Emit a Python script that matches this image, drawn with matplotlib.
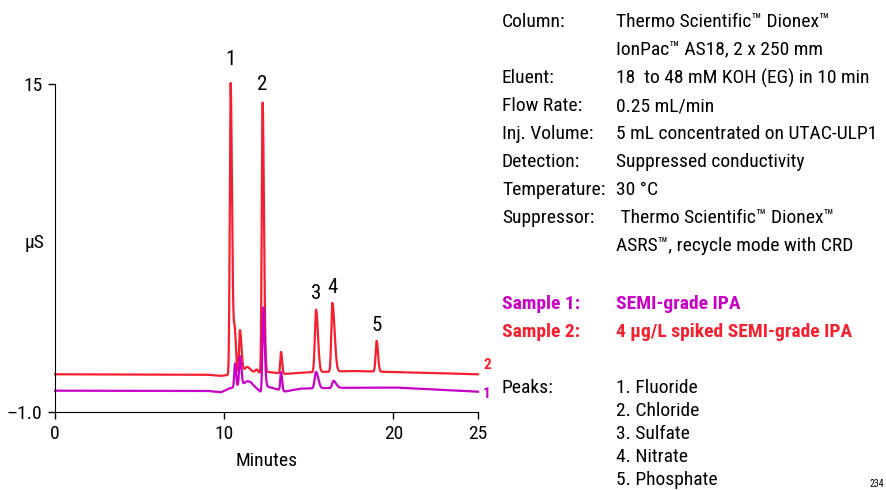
import numpy as np
import matplotlib
matplotlib.use("Agg")
import matplotlib.pyplot as plt

# ---- data ----
# baseline knots (minutes, uS)
base2_t = [0, 9.0, 9.8, 10.2, 11.6, 12.15, 12.6, 13.6, 14.5, 17.5, 21, 25]
base2_y = [0.84, 0.82, 0.76, 0.80, 0.98, 0.88, 0.95, 0.86, 0.92, 1.00, 0.93, 0.84]
base1_t = [0, 9.0, 9.8, 10.3, 11.6, 12.15, 12.5, 13.6, 14.5, 17.0, 20, 25]
base1_y = [0.04, 0.03, -0.04, 0.15, 0.40, -0.02, 0.25, 0.00, 0.14, 0.18, 0.20, -0.01]

# peaks: retention time, height above baseline, left / right width
peaks2_t = [10.38, 10.62, 10.93, 11.35, 11.92, 12.27, 13.36, 15.43, 16.39, 19.01]
peaks2_h = [14.2, 2.2, 2.1, 0.25, 0.15, 13.2, 1.05, 3.05, 3.35, 1.5]
peaks2_sl = [0.05, 0.08, 0.05, 0.15, 0.08, 0.05, 0.045, 0.07, 0.06, 0.06]
peaks2_sr = [0.08, 0.07, 0.09, 0.15, 0.08, 0.08, 0.06, 0.11, 0.13, 0.08]

peaks1_t = [10.64, 10.93, 11.35, 12.31, 13.36, 15.43, 16.45]
peaks1_h = [1.15, 1.45, 0.15, 4.0, 0.9, 0.8, 0.35]
peaks1_sl = [0.045, 0.05, 0.15, 0.05, 0.045, 0.08, 0.07]
peaks1_sr = [0.06, 0.08, 0.15, 0.08, 0.06, 0.13, 0.16]

peak_labels = ["1", "2", "3", "4", "5"]
label_t = [10.38, 12.27, 15.43, 16.39, 19.01]
label_y = [16.2, 15.0, 4.8, 5.05, 3.2]

info_keys = ["Column:", "", "Eluent:", "Flow Rate:", "Inj. Volume:", "Detection:",
             "Temperature:", "Suppressor:", ""]
info_vals = ["Thermo Scientific\u2122 Dionex\u2122", "IonPac\u2122 AS18, 2 x 250 mm",
             "18  to 48 mM KOH (EG) in 10 min", "0.25 mL/min",
             "5 mL concentrated on UTAC-ULP1", "Suppressed conductivity", "30 \u00b0C",
             " Thermo Scientific\u2122 Dionex\u2122", "ASRS\u2122, recycle mode with CRD"]
peak_names = ["1. Fluoride", "2. Chloride", "3. Sulfate", "4. Nitrate", "5. Phosphate"]

RED = "#f5202f"
MAG = "#c800c8"

plt.rcParams["font.family"] = ["Roboto Condensed", "Liberation Sans", "DejaVu Sans"]
FS = 14


def trace(t, bt, by, pt, ph, psl, psr):
    y = np.interp(t, bt, by)
    for c, h, sl, sr in zip(pt, ph, psl, psr):
        s = np.where(t < c, sl, sr)
        y = y + h * np.exp(-0.5 * ((t - c) / s) ** 2)
    return y


t = np.linspace(0, 25, 6000)
y2 = trace(t, base2_t, base2_y, peaks2_t, peaks2_h, peaks2_sl, peaks2_sr)
y1 = trace(t, base1_t, base1_y, peaks1_t, peaks1_h, peaks1_sl, peaks1_sr)

W, H = 887, 490
fig = plt.figure(figsize=(W / 100, H / 100), dpi=100)
ax = fig.add_axes([55 / W, 1 - 412 / H, (478 - 55) / W, (412 - 84) / H])

ax.plot(t, y2, color=RED, lw=1.6, clip_on=False)
ax.plot(t, y1, color=MAG, lw=1.6, clip_on=False)

ax.set_xlim(0, 25)
ax.set_ylim(-1, 15)
ax.set_xticks([0, 10, 20, 25])
ax.set_yticks([15, -1])
ax.set_yticklabels(["15", "\u20131.0"])
for s in ["top", "right"]:
    ax.spines[s].set_visible(False)
ax.tick_params(direction="out", length=5, width=1, labelsize=FS, pad=4)
ax.set_xlabel("Minutes", fontsize=FS, labelpad=7)
fig.text(35 / W, 1 - 243 / H, "\u00b5S", fontsize=FS, ha="center", va="center")

for lab, lt, ly in zip(peak_labels, label_t, label_y):
    ax.text(lt, ly, lab, fontsize=15, ha="center", va="center", clip_on=False)

ax.text(25.53, 1.29, "2", color=RED, fontsize=11, fontweight="bold",
        ha="center", va="center", clip_on=False)
ax.text(25.53, -0.12, "1", color=MAG, fontsize=11, fontweight="bold",
        ha="center", va="center", clip_on=False)

# right-hand conditions panel
x1, x2 = 502 / W, 616 / W
rows_y = [22, 50, 78, 106, 134, 162, 190, 218, 246]
for k, v, yy in zip(info_keys, info_vals, rows_y):
    fig.text(x1, 1 - yy / H, k, fontsize=FS, va="center")
    fig.text(x2, 1 - yy / H, v, fontsize=FS, va="center")

fig.text(x1, 1 - 304 / H, "Sample 1:", fontsize=FS, va="center", color=MAG, fontweight="bold")
fig.text(x2, 1 - 304 / H, "SEMI-grade IPA", fontsize=FS, va="center", color=MAG, fontweight="bold")
fig.text(x1, 1 - 332 / H, "Sample 2:", fontsize=FS, va="center", color=RED, fontweight="bold")
fig.text(x2, 1 - 332 / H, "4 \u00b5g/L spiked SEMI-grade IPA", fontsize=FS, va="center",
         color=RED, fontweight="bold")

fig.text(x1, 1 - 388 / H, "Peaks:", fontsize=FS, va="center")
for i, nm in enumerate(peak_names):
    fig.text(x2, 1 - (388 + 23 * i) / H, nm, fontsize=FS, va="center")

fig.text(870 / W, 1 - 489 / H, "234", fontsize=7, va="bottom")

fig.savefig("out.png", dpi=100)
